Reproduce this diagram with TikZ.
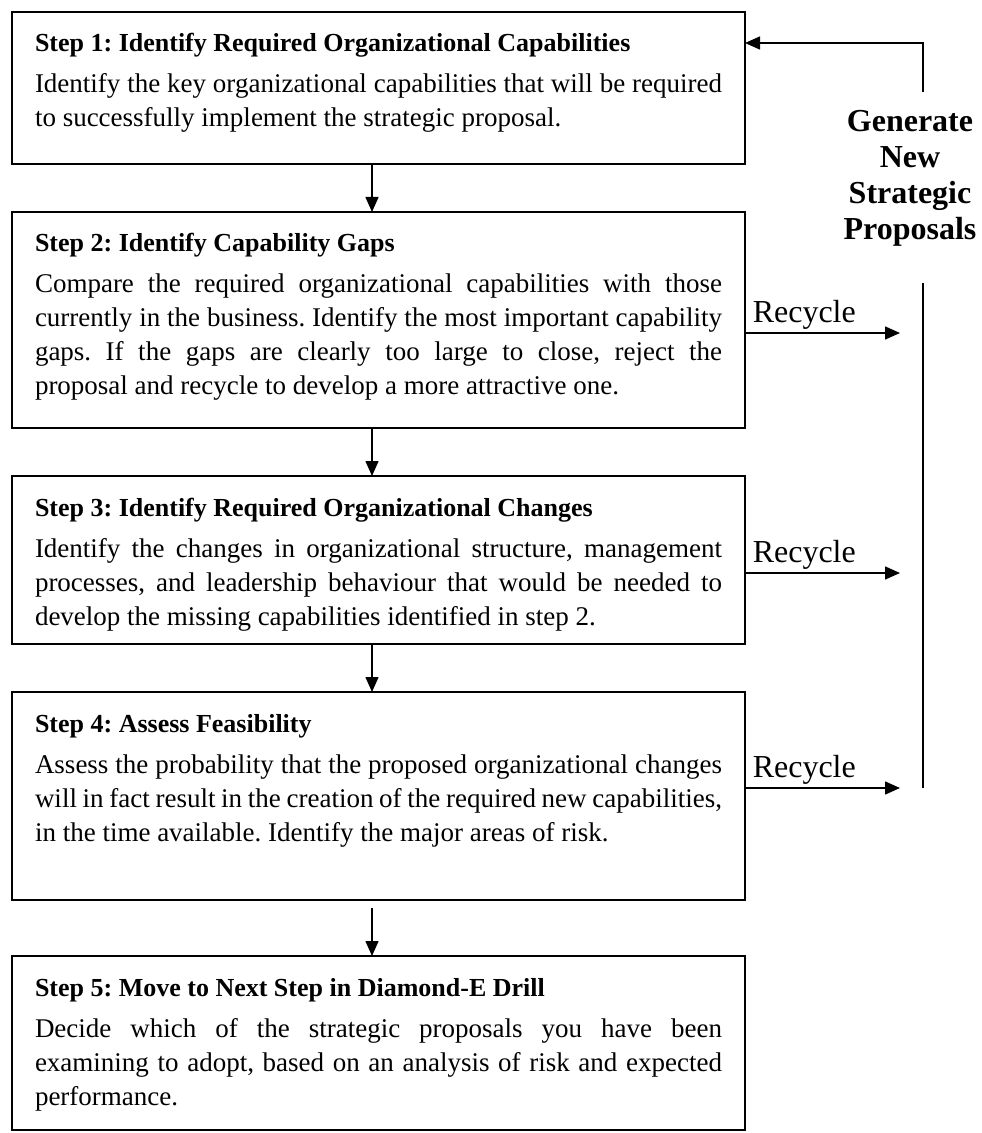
\documentclass[tikz,border=0pt]{standalone}
\usepackage{fontspec}
\setmainfont{Liberation Serif}
\usepackage{tikz}
\usetikzlibrary{arrows.meta}
\usetikzlibrary{positioning}
\tikzset{>={Triangle[length=7.5pt,width=6.5pt]}}
\tikzstyle{stepbox} = [draw, line width=1pt, outer sep=0pt, text width=343.5pt,
    inner xsep=11.5pt, inner ysep=0pt, align=justify, text height=20pt,
    font=\fontsize{13.5}{17}\selectfont]
\tikzstyle{flow} = [->, line width=0.75pt]
\tikzstyle{recycle} = [pos=0, anchor=south west, inner xsep=3.5pt,
    inner ysep=1.5pt, font=\fontsize{16}{18}\selectfont]
\tikzstyle{genlabel} = [align=center, inner sep=0pt,
    font=\fontsize{16}{18}\selectfont\bfseries]
\newcommand{\stephead}[1]{{\fontsize{13}{17}\selectfont\textbf{#1}}}
\tolerance=10000
\hyphenpenalty=10000
\frenchspacing

\begin{document}
\begin{tikzpicture}[x=0.5pt,y=-0.5pt]
\useasboundingbox (0,0) rectangle (981,1133);
    %steps
    \node[stepbox, anchor=north west, text depth=56pt] (s1) at (12,12)
        {\stephead{Step 1: Identify Required Organizational Capabilities}\\[3.5pt]
        Identify the key organizational capabilities that will be required\linebreak
        to successfully implement the strategic proposal.};
    \node[stepbox, text depth=88pt, below=24pt of s1] (s2)
        {\stephead{Step 2: Identify Capability Gaps}\\[3.5pt]
        Compare the required organizational capabilities with those\linebreak
        currently in the business. Identify the most important capability\linebreak
        gaps. If the gaps are clearly too large to close, reject the\linebreak
        proposal and recycle to develop a more attractive one.};
    \node[stepbox, text depth=64pt, below=24pt of s2] (s3)
        {\stephead{Step 3: Identify Required Organizational Changes}\\[3.5pt]
        Identify the changes in organizational structure, management\linebreak
        processes, and leadership behaviour that would be needed to\linebreak
        develop the missing capabilities identified in step 2.};
    \node[stepbox, text depth=84pt, below=24pt of s3] (s4)
        {\stephead{Step 4: Assess Feasibility}\\[3.5pt]
        Assess the probability that the proposed organizational changes\linebreak
        will in fact result in the creation of the required new capabilities,\linebreak
        in the time available. Identify the major areas of risk.};
    \node[stepbox, text depth=67pt, below=28pt of s4] (s5)
        {\stephead{Step 5: Move to Next Step in Diamond-E Drill}\\[3.5pt]
        Decide which of the strategic proposals you have been\linebreak
        examining to adopt, based on an analysis of risk and expected\linebreak
        performance.};
    %down arrows
    \draw[flow] ([xshift=-3.25pt]s1.south) -- ([xshift=-3.25pt]s2.north);
    \draw[flow] ([xshift=-3.25pt]s2.south) -- ([xshift=-3.25pt]s3.north);
    \draw[flow] ([xshift=-3.25pt]s3.south) -- ([xshift=-3.25pt]s4.north);
    \draw[flow] ([xshift=-3.25pt,yshift=-4pt]s4.south) -- ([xshift=-3.25pt]s5.north);
    %feedback loop
    \coordinate (gtop) at (923,92);
    \coordinate (gturn) at (923,43);
    \coordinate (gbot) at (923,283);
    \coordinate (gend) at (923,788);
    \draw[flow] (gtop) -- (gturn) -- (gturn -| s1.east);
    \draw[line width=0.75pt] (gbot) -- (gend);
    \node[genlabel] (gen) at (910,178) {Generate\\New\\Strategic\\Proposals};
    %recycle arrows
    \coordinate (r2) at (900,333);
    \coordinate (r3) at (900,573);
    \coordinate (r4) at (900,788);
    \draw[flow] (r2 -| s2.east) -- node[recycle] (rc2) {Recycle} (r2);
    \draw[flow] (r3 -| s3.east) -- node[recycle] (rc3) {Recycle} (r3);
    \draw[flow] (r4 -| s4.east) -- node[recycle] (rc4) {Recycle} (r4);
\end{tikzpicture}
\end{document}
